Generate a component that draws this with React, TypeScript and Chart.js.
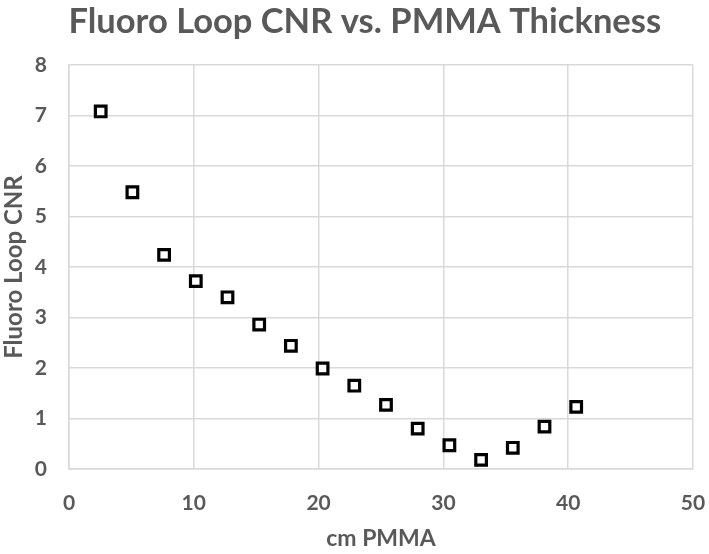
import React, { useEffect, useRef } from "react";
import { Chart, registerables } from "chart.js";

Chart.register(...registerables);

const titleText = "Fluoro Loop CNR vs. PMMA Thickness";
const xTitle = "cm PMMA";
const yTitle = "Fluoro Loop CNR";
const thicknessCm = [2.54, 5.08, 7.62, 10.16, 12.7, 15.24, 17.78, 20.32, 22.86, 25.4, 27.94, 30.48, 33.02, 35.56, 38.1, 40.64];
const cnrValues = [7.08, 5.48, 4.24, 3.72, 3.4, 2.86, 2.44, 1.99, 1.65, 1.27, 0.8, 0.47, 0.18, 0.42, 0.84, 1.23];

const FONT = "Lato, 'Open Sans', sans-serif";
const GRAY = "#595959";
const GRID = "#d9d9d9";

const chartTitlePlugin = {
  id: "chartTitleText",
  afterDraw(chart: any) {
    const ctx = chart.ctx;
    ctx.save();
    ctx.font = `bold 34.5px ${FONT}`;
    ctx.fillStyle = GRAY;
    ctx.textAlign = "center";
    ctx.textBaseline = "alphabetic";
    ctx.fillText(titleText, chart.width * 0.5145, 33);
    ctx.restore();
  },
};

export default function App() {
  const ref = useRef<HTMLCanvasElement | null>(null);

  useEffect(() => {
    document.body.style.margin = "0";
    if (!ref.current) return;
    const points = thicknessCm.map((x, i) => ({ x, y: cnrValues[i] }));
    const chart = new Chart(ref.current, {
      type: "scatter",
      data: {
        datasets: [
          {
            data: points,
            pointStyle: "rect",
            pointRadius: 7.5,
            pointHoverRadius: 7.5,
            pointBorderWidth: 3.2,
            borderColor: "#000000",
            backgroundColor: "#ffffff",
          },
        ],
      },
      plugins: [chartTitlePlugin],
      options: {
        animation: false,
        responsive: true,
        maintainAspectRatio: false,
        layout: { padding: { left: 0, right: 16, top: 65, bottom: 0 } },
        plugins: {
          legend: { display: false },
          tooltip: { enabled: false },
          title: { display: false },
        },
        scales: {
          x: {
            type: "linear",
            min: 0,
            max: 50,
            ticks: {
              stepSize: 10,
              color: GRAY,
              font: { family: FONT, size: 21, weight: "bold" },
              padding: 22,
            },
            grid: { color: GRID, lineWidth: 1.5, drawTicks: false },
            border: { color: GRID, width: 1.5 },
            title: {
              display: true,
              text: xTitle,
              color: GRAY,
              font: { family: FONT, size: 23, weight: "bold" },
              padding: { top: 6, bottom: 2 },
            },
            afterFit: (s: any) => {
              s.height = 554 - 469;
              s.paddingLeft = 0;
              s.paddingRight = 0;
            },
          },
          y: {
            type: "linear",
            min: 0,
            max: 8,
            ticks: {
              stepSize: 1,
              color: GRAY,
              font: { family: FONT, size: 21, weight: "bold" },
              padding: 22,
            },
            grid: { color: GRID, lineWidth: 1.5, drawTicks: false },
            border: { color: GRID, width: 1.5 },
            title: {
              display: true,
              text: yTitle,
              color: GRAY,
              font: { family: FONT, size: 24, weight: "bold" },
              padding: { top: 0, bottom: 0 },
            },
            afterFit: (s: any) => {
              s.width = 69;
              s.paddingTop = 0;
              s.paddingBottom = 0;
            },
          },
        },
      },
    });
    return () => chart.destroy();
  }, []);

  return (
    <div style={{ position: "relative", width: 709, height: 554 }}>
      <canvas ref={ref} />
    </div>
  );
}
